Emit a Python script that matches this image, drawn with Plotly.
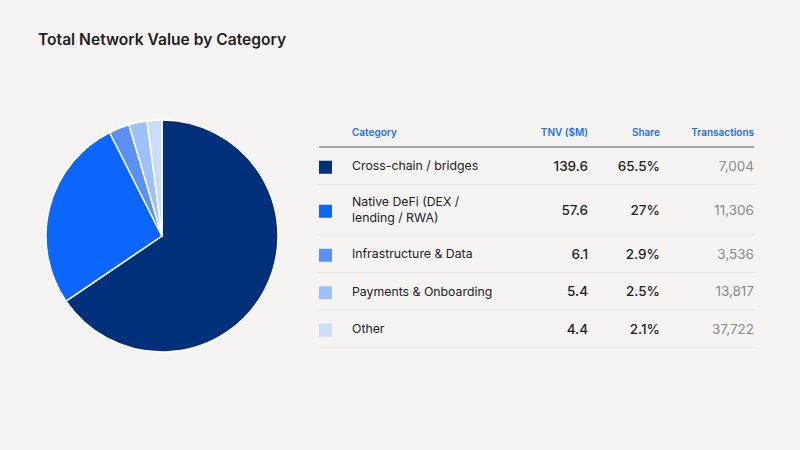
import plotly.graph_objects as go

# data
categories = ["Cross-chain / bridges", "Native DeFi (DEX /<br>lending / RWA)",
              "Infrastructure & Data", "Payments & Onboarding", "Other"]
tnv = [139.6, 57.6, 6.1, 5.4, 4.4]
share = [65.5, 27, 2.9, 2.5, 2.1]
transactions = [7004, 11306, 3536, 13817, 37722]
colors = ["#00307A", "#0A66FF", "#5B91F7", "#9DC0FF", "#CCDDFB"]
headers = ["Category", "TNV ($M)", "Share", "Transactions"]

BG = "#F5F4F2"
FONT = "Inter, Roboto, sans-serif"

# table layout (pixel units on a hidden axis)
x_left, x_cat, x_tnv, x_share, x_tx = 319, 352, 588, 660, 754
header_y, header_line = 133, 147
base_h, extra_line = 37.5, 13

row_y, seps = [], []
y = header_line
for c in categories:
    h = base_h + extra_line * c.count("<br>")
    row_y.append(y + h / 2 + 1.5)
    y += h
    seps.append(y)

fig = go.Figure()

fig.add_trace(go.Pie(
    values=tnv, labels=[c.replace("<br>", " ") for c in categories],
    marker=dict(colors=colors, line=dict(color="white", width=1.5)),
    sort=False, direction="clockwise", rotation=0,
    textinfo="none", hoverinfo="label+value+percent", showlegend=False,
    domain=dict(x=[46 / 800, 278 / 800], y=[98 / 450, 330 / 450]),
))

# swatches
fig.add_trace(go.Scatter(
    x=[x_left + 6.5] * len(categories), y=row_y, mode="markers",
    marker=dict(symbol="square", size=13, color=colors, line=dict(width=0)),
    hoverinfo="skip", showlegend=False,
))

def text_col(xpos, texts, pos, color, weight=400, size=12):
    fig.add_trace(go.Scatter(
        x=[xpos] * len(texts), y=row_y, mode="text", text=texts,
        textposition=pos, textfont=dict(family=FONT, size=size, color=color, weight=weight),
        hoverinfo="skip", showlegend=False,
    ))

text_col(x_cat, categories, "middle right", "#222222", 400, 12.3)
text_col(x_tnv, [f"{v:.1f}" for v in tnv], "middle left", "#1E1E1E", 500, 13.5)
text_col(x_share, [f"{v:g}%" for v in share], "middle left", "#1E1E1E", 500, 13.5)
text_col(x_tx, [f"{v:,}" for v in transactions], "middle left", "#8A8A8A", 400, 13.5)

# headers
fig.add_trace(go.Scatter(
    x=[x_cat, x_tnv, x_share, x_tx], y=[header_y] * 4, mode="text", text=headers,
    textposition=["middle right", "middle left", "middle left", "middle left"],
    textfont=dict(family=FONT, size=10, color="#1A6DFF", weight=600),
    hoverinfo="skip", showlegend=False,
))

fig.add_shape(type="line", x0=x_left, x1=x_tx, y0=header_line, y1=header_line,
              xref="x", yref="y", line=dict(color="#8C8C8C", width=1.3))
for s in seps:
    fig.add_shape(type="line", x0=x_left, x1=x_tx, y0=s, y1=s,
                  xref="x", yref="y", line=dict(color="#E6E4E1", width=1))

fig.update_layout(
    width=800, height=450,
    margin=dict(l=0, r=0, t=0, b=0),
    paper_bgcolor=BG, plot_bgcolor=BG,
    font=dict(family=FONT),
    title=dict(text="Total Network Value by Category", x=38 / 800, xanchor="left",
               y=1 - 40 / 450, yanchor="middle",
               font=dict(family=FONT, size=15.6, color="#1E1E1E", weight=600)),
    xaxis=dict(range=[0, 800], visible=False, fixedrange=True),
    yaxis=dict(range=[450, 0], visible=False, fixedrange=True),
)

fig.write_html("out.html", config={"displayModeBar": False},
               post_script="document.body.style.margin='0';"
                           "document.body.style.background='" + BG + "';")
